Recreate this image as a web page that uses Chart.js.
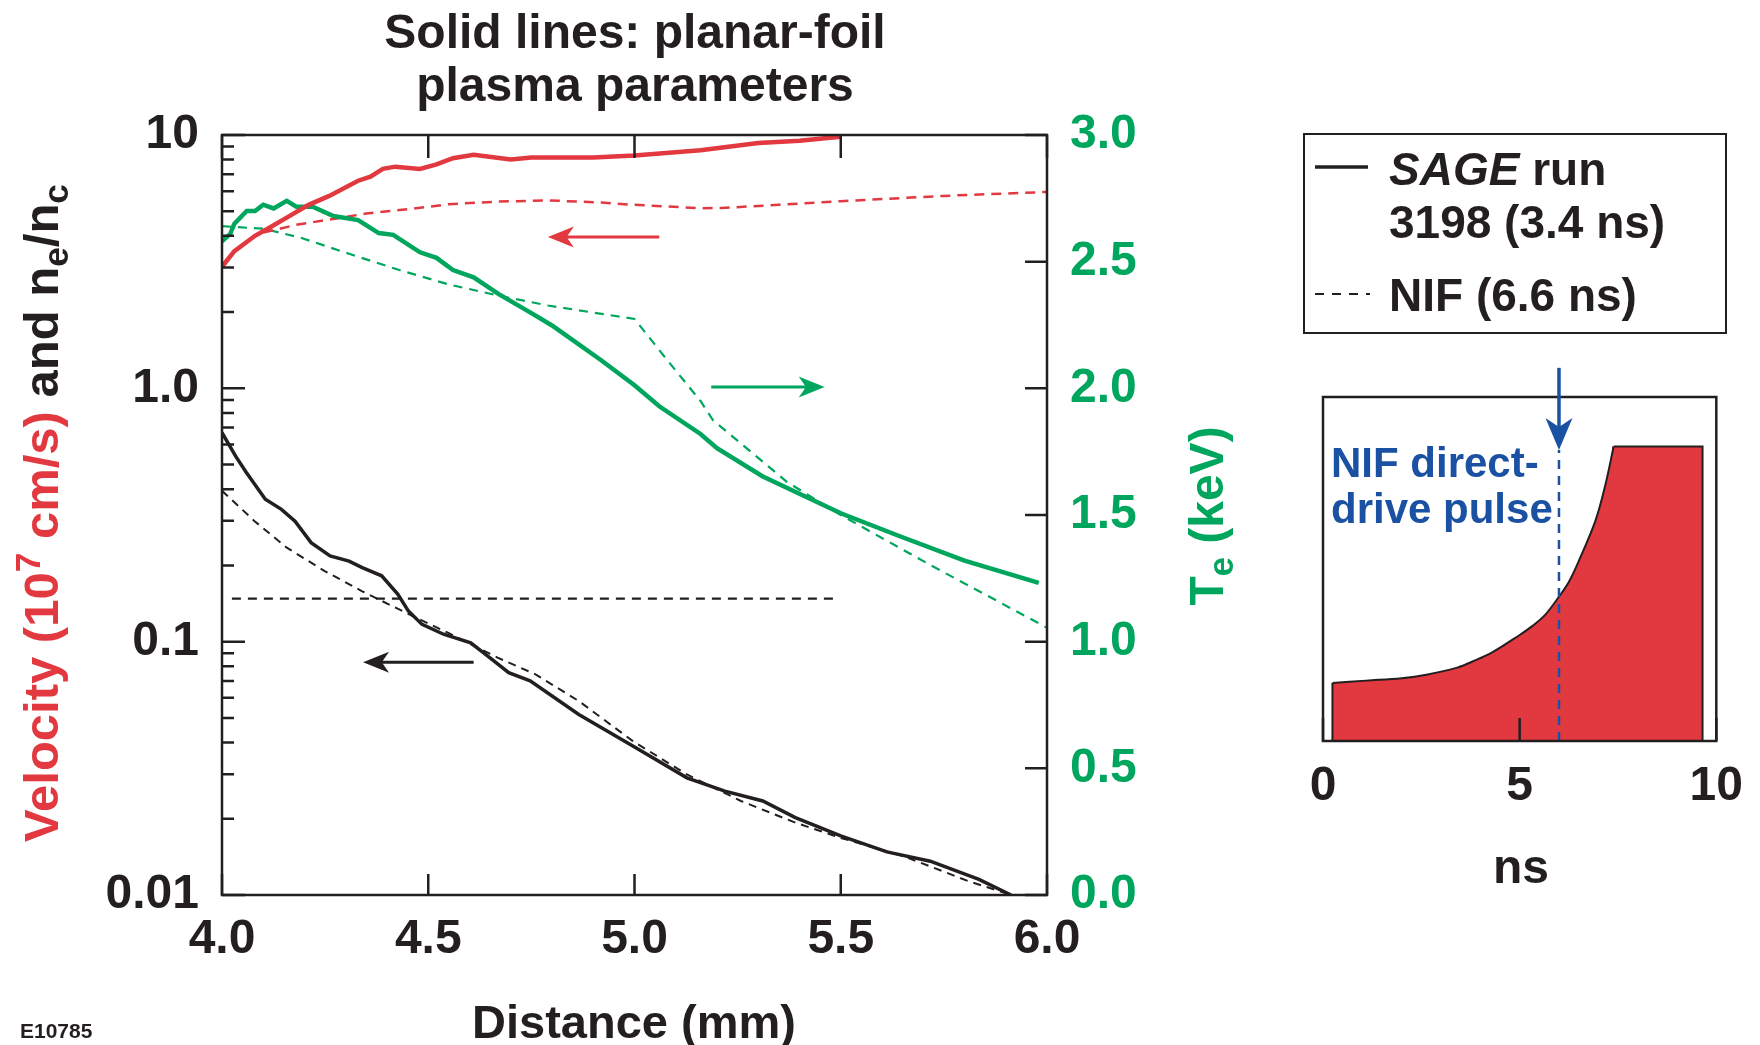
<!DOCTYPE html>
<html>
<head>
<meta charset="utf-8">
<script src="https://cdn.jsdelivr.net/npm/chart.js@4.4.1/dist/chart.umd.min.js"></script>
<style>
  body { margin: 0; background: #fff; }
  #wrap { position: relative; width: 1760px; height: 1045px; }
  canvas { position: absolute; left: 0; top: 0; }
</style>
</head>
<body>
<div id="wrap">
  <canvas id="mainChart" width="1760" height="1045"></canvas>
  <canvas id="pulseChart" width="1760" height="1045"></canvas>
</div>
<script>
// ---- data ----
var distTicks = [4.0, 4.5, 5.0, 5.5, 6.0];
var densTicks = [0.01, 0.1, 1, 10];
var densLabels = ['0.01', '0.1', '1.0', '10'];
var tempTicks = [0, 0.5, 1.0, 1.5, 2.0, 2.5, 3.0];

// velocity (10^7 cm/s), red
var velSageX = [4.00, 4.03, 4.08, 4.12, 4.16, 4.21, 4.26, 4.33, 4.36, 4.39, 4.42, 4.48, 4.52, 4.56, 4.61, 4.70, 4.75, 4.90, 5.00, 5.16, 5.30, 5.40, 5.50];
var velSageY = [3.02, 3.48, 4.0, 4.35, 4.75, 5.3, 5.75, 6.6, 6.85, 7.35, 7.5, 7.35, 7.65, 8.1, 8.35, 8.0, 8.15, 8.15, 8.3, 8.7, 9.3, 9.5, 9.85];
var velNifX = [4.10, 4.18, 4.29, 4.35, 4.47, 4.55, 4.67, 4.79, 4.92, 5.00, 5.16, 5.21, 5.35, 5.50, 5.75, 6.00];
var velNifY = [4.12, 4.42, 4.72, 4.9, 5.14, 5.33, 5.46, 5.52, 5.41, 5.3, 5.14, 5.15, 5.3, 5.48, 5.75, 5.96];

// electron temperature (keV), green
var teSageX = [4.00, 4.02, 4.03, 4.06, 4.08, 4.10, 4.125, 4.157, 4.18, 4.22, 4.27, 4.33, 4.38, 4.415, 4.48, 4.52, 4.56, 4.61, 4.67, 4.75, 4.80, 4.92, 5.00, 5.06, 5.16, 5.20, 5.31, 5.50, 5.64, 5.80, 5.98];
var teSageY = [2.58, 2.61, 2.65, 2.70, 2.70, 2.725, 2.71, 2.74, 2.717, 2.717, 2.68, 2.664, 2.613, 2.606, 2.537, 2.515, 2.467, 2.438, 2.373, 2.297, 2.248, 2.11, 2.012, 1.929, 1.82, 1.764, 1.653, 1.507, 1.418, 1.32, 1.232];
var teNifX = [4.00, 4.10, 4.19, 4.31, 4.43, 4.55, 4.67, 4.79, 4.92, 5.00, 5.08, 5.16, 5.19, 5.37, 5.50, 5.72, 6.00];
var teNifY = [2.64, 2.63, 2.595, 2.53, 2.467, 2.41, 2.366, 2.327, 2.294, 2.274, 2.11, 1.95, 1.875, 1.63, 1.50, 1.30, 1.055];

// density ne/nc, black
var neSageX = [4.00, 4.033, 4.059, 4.105, 4.144, 4.177, 4.216, 4.262, 4.308, 4.34, 4.387, 4.426, 4.452, 4.485, 4.537, 4.603, 4.649, 4.695, 4.747, 4.865, 4.996, 5.127, 5.219, 5.311, 5.39, 5.50, 5.612, 5.717, 5.835, 5.913];
var neSageY = [0.668, 0.54, 0.465, 0.365, 0.333, 0.299, 0.246, 0.218, 0.208, 0.196, 0.182, 0.154, 0.132, 0.117, 0.107, 0.099, 0.0865, 0.0754, 0.070, 0.0516, 0.0387, 0.029, 0.0257, 0.0235, 0.0202, 0.0171, 0.0148, 0.0136, 0.01153, 0.01];
var neNifX = [4.00, 4.079, 4.157, 4.249, 4.34, 4.446, 4.55, 4.668, 4.76, 4.865, 4.996, 5.127, 5.258, 5.39, 5.50, 5.651, 5.809, 5.913];
var neNifY = [0.394, 0.299, 0.235, 0.190, 0.158, 0.130, 0.108, 0.0865, 0.0743, 0.0583, 0.0405, 0.0299, 0.0235, 0.0193, 0.0168, 0.01426, 0.01135, 0.01];
var critX = [4.024, 5.494];
var critY = [0.148, 0.148];

// arrows [x from, x to, value, axis, colour]
var arrowsMain = [
  [5.06, 4.79, 3.96, 'y', 'red'],
  [4.61, 4.342, 0.083, 'y', 'black'],
  [5.186, 5.461, 2.005, 'y2', 'green']
];

// inset: NIF direct-drive pulse shape (relative power vs ns)
var pulseCurveT = [0.24, 1.1, 2.0, 2.63, 3.43, 3.8, 4.29, 5.0, 5.32, 5.66, 6.0, 6.25, 6.5, 6.93, 7.18, 7.39];
var pulseCurveP = [0.197, 0.205, 0.213, 0.225, 0.25, 0.27, 0.30, 0.36, 0.39, 0.43, 0.49, 0.54, 0.61, 0.749, 0.87, 1.0];
var pulseFlatT = [7.39, 9.65, 9.65];
var pulseFlatP = [1.0, 1.0, 0];
var pulseStartT = [0.24, 0.24];
var pulseStartP = [0, 0.197];
var pulseJoinT = [7.39, 7.39];
var pulseJoinP = [0, 1.0];
var pulseTicks = [0, 5, 10];
var markTime = 6.0;
var markTop = 0.988;
var markArrowStart = 1.267;

var RED = '#e2383f', GREEN = '#00a65d', BLACK = '#231f20', BLUE = '#1a51a2';
var FONT = "'Liberation Sans', Arial, Helvetica, sans-serif";
var colorOf = { red: RED, green: GREEN, black: BLACK };

Chart.defaults.font.family = FONT;
Chart.defaults.color = BLACK;

function pts(xs, ys) {
    return xs.map(function (x, i) { return { x: x, y: ys[i] }; });
}

function arrow(ctx, x1, y1, x2, y2, color, lw, len, half) {
    var a = Math.atan2(y2 - y1, x2 - x1);
    ctx.save();
    ctx.strokeStyle = color;
    ctx.fillStyle = color;
    ctx.lineWidth = lw;
    ctx.setLineDash([]);
    ctx.beginPath();
    ctx.moveTo(x1, y1);
    ctx.lineTo(x2 - Math.cos(a) * len * 0.6, y2 - Math.sin(a) * len * 0.6);
    ctx.stroke();
    ctx.translate(x2, y2);
    ctx.rotate(a);
    ctx.beginPath();
    ctx.moveTo(0, 0);
    ctx.lineTo(-len, -half);
    ctx.lineTo(-len * 0.72, 0);
    ctx.lineTo(-len, half);
    ctx.closePath();
    ctx.fill();
    ctx.restore();
}

// text made of pieces: [text, color, kind]  kind: '', 'sup', 'sub', 'it'
function richText(ctx, parts, cx, cy, size) {
    function font(p) {
        var s = (p[2] === 'sup' || p[2] === 'sub') ? size * 0.72 : size;
        return (p[2] === 'it' ? 'italic ' : '') + 'bold ' + s + 'px ' + FONT;
    }
    var widths = parts.map(function (p) {
        ctx.font = font(p);
        return ctx.measureText(p[0]).width;
    });
    var total = widths.reduce(function (a, b) { return a + b; }, 0);
    var x = cx - total / 2;
    ctx.textAlign = 'left';
    ctx.textBaseline = 'alphabetic';
    parts.forEach(function (p, i) {
        ctx.font = font(p);
        ctx.fillStyle = p[1];
        var dy = p[2] === 'sup' ? -size * 0.36 : (p[2] === 'sub' ? size * 0.2 : 0);
        ctx.fillText(p[0], x, cy + dy);
        x += widths[i];
    });
}

var mainDecor = {
    id: 'mainDecor',
    afterDraw: function (chart) {
        var ctx = chart.ctx, a = chart.chartArea;
        var sx = chart.scales.x, sy = chart.scales.y, st = chart.scales.y2;
        ctx.save();
        ctx.strokeStyle = BLACK;
        ctx.lineWidth = 2.5;
        ctx.strokeRect(a.left, a.top, a.right - a.left, a.bottom - a.top);

        ctx.beginPath();
        distTicks.forEach(function (v) {
            var px = sx.getPixelForValue(v);
            ctx.moveTo(px, a.bottom); ctx.lineTo(px, a.bottom - 21);
            ctx.moveTo(px, a.top); ctx.lineTo(px, a.top + 23);
        });
        densTicks.forEach(function (d, i) {
            var py = sy.getPixelForValue(d);
            ctx.moveTo(a.left, py); ctx.lineTo(a.left + 23, py);
            if (i < densTicks.length - 1) {
                for (var m = 2; m <= 9; m++) {
                    var pm = sy.getPixelForValue(d * m);
                    ctx.moveTo(a.left, pm); ctx.lineTo(a.left + 12, pm);
                }
            }
        });
        tempTicks.forEach(function (v) {
            var py = st.getPixelForValue(v);
            ctx.moveTo(a.right, py); ctx.lineTo(a.right - 22, py);
        });
        ctx.stroke();

        arrowsMain.forEach(function (ar) {
            var sc = chart.scales[ar[3]];
            var py = sc.getPixelForValue(ar[2]);
            arrow(ctx, sx.getPixelForValue(ar[0]), py, sx.getPixelForValue(ar[1]), py, colorOf[ar[4]], 3, 26, 10.5);
        });

        // titles
        ctx.fillStyle = BLACK;
        ctx.textAlign = 'center';
        ctx.textBaseline = 'alphabetic';
        ctx.font = 'bold 48px ' + FONT;
        ctx.fillText('Solid lines: planar-foil', 635, 48);
        ctx.fillText('plasma parameters', 635, 101);
        ctx.font = 'bold 47px ' + FONT;
        ctx.fillText('Distance (mm)', 634, 1038);
        ctx.textAlign = 'left';
        ctx.font = 'bold 21px ' + FONT;
        ctx.fillText('E10785', 20, 1038);

        ctx.save();
        ctx.translate(58, 513);
        ctx.rotate(-Math.PI / 2);
        richText(ctx, [
            ['Velocity (10', RED, ''], ['7', RED, 'sup'], [' cm/s)', RED, ''],
            [' and n', BLACK, ''], ['e', BLACK, 'sub'], ['/n', BLACK, ''], ['c', BLACK, 'sub']
        ], 0, 0, 49);
        ctx.restore();

        ctx.save();
        ctx.translate(1223, 516);
        ctx.rotate(-Math.PI / 2);
        richText(ctx, [['T', GREEN, ''], ['e', GREEN, 'sub'], [' (keV)', GREEN, '']], 0, 0, 48);
        ctx.restore();

        // legend box
        ctx.lineWidth = 2;
        ctx.strokeStyle = BLACK;
        ctx.strokeRect(1304, 134, 422, 199);
        ctx.lineWidth = 3.5;
        ctx.beginPath();
        ctx.moveTo(1315, 167); ctx.lineTo(1368, 167);
        ctx.stroke();
        ctx.lineWidth = 2;
        ctx.setLineDash([9, 8]);
        ctx.beginPath();
        ctx.moveTo(1315, 294); ctx.lineTo(1370, 294);
        ctx.stroke();
        ctx.setLineDash([]);
        ctx.fillStyle = BLACK;
        ctx.textAlign = 'left';
        ctx.font = 'italic bold 46px ' + FONT;
        ctx.fillText('SAGE', 1389, 185);
        var w = ctx.measureText('SAGE').width;
        ctx.font = 'bold 46px ' + FONT;
        ctx.fillText(' run', 1389 + w, 185);
        ctx.fillText('3198 (3.4 ns)', 1389, 238);
        ctx.fillText('NIF (6.6 ns)', 1389, 311);
        ctx.restore();
    }
};

new Chart(document.getElementById('mainChart'), {
    type: 'line',
    data: {
        datasets: [
            { data: pts(velSageX, velSageY), yAxisID: 'y', borderColor: RED, borderWidth: 4.5 },
            { data: pts(teSageX, teSageY), yAxisID: 'y2', borderColor: GREEN, borderWidth: 4.5 },
            { data: pts(neSageX, neSageY), yAxisID: 'y', borderColor: BLACK, borderWidth: 3.5 },
            { data: pts(velNifX, velNifY), yAxisID: 'y', borderColor: RED, borderWidth: 2.5, borderDash: [10, 7] },
            { data: pts(teNifX, teNifY), yAxisID: 'y2', borderColor: GREEN, borderWidth: 2.2, borderDash: [9, 7] },
            { data: pts(neNifX, neNifY), yAxisID: 'y', borderColor: BLACK, borderWidth: 2, borderDash: [8, 6] },
            { data: pts(critX, critY), yAxisID: 'y', borderColor: BLACK, borderWidth: 2.2, borderDash: [9, 7] }
        ]
    },
    options: {
        responsive: false,
        animation: false,
        layout: { padding: { top: 135, left: 0, right: 0, bottom: 0 } },
        plugins: { legend: { display: false }, tooltip: { enabled: false } },
        elements: { point: { radius: 0 }, line: { tension: 0, fill: false } },
        scales: {
            x: {
                type: 'linear', min: 4, max: 6,
                grid: { display: false, drawTicks: false }, border: { display: false },
                afterBuildTicks: function (s) { s.ticks = distTicks.map(function (v) { return { value: v }; }); },
                afterFit: function (s) { s.height = 150; },
                ticks: { autoSkip: false, maxRotation: 0, padding: 16, color: BLACK, font: { size: 48, weight: 'bold' },
                    callback: function (v) { return v.toFixed(1); } }
            },
            y: {
                type: 'logarithmic', position: 'left', min: 0.01, max: 10,
                grid: { display: false, drawTicks: false }, border: { display: false },
                afterBuildTicks: function (s) { s.ticks = densTicks.map(function (v) { return { value: v }; }); },
                afterFit: function (s) { s.width = 222; },
                ticks: { autoSkip: false, padding: 23, color: BLACK, font: { size: 48, weight: 'bold' },
                    callback: function (v) { var i = densTicks.indexOf(v); return i >= 0 ? densLabels[i] : ''; } }
            },
            y2: {
                type: 'linear', position: 'right', min: 0, max: 3,
                grid: { display: false, drawTicks: false }, border: { display: false },
                afterBuildTicks: function (s) { s.ticks = tempTicks.map(function (v) { return { value: v }; }); },
                afterFit: function (s) { s.width = 1760 - 1047; },
                ticks: { autoSkip: false, padding: 23, color: GREEN, font: { size: 48, weight: 'bold' },
                    callback: function (v) { return v.toFixed(1); } }
            }
        }
    },
    plugins: [mainDecor]
});

var pulseDecor = {
    id: 'pulseDecor',
    afterDraw: function (chart) {
        var ctx = chart.ctx, a = chart.chartArea;
        var sx = chart.scales.x, sy = chart.scales.y;
        ctx.save();
        ctx.strokeStyle = BLACK;
        ctx.lineWidth = 2.5;
        ctx.strokeRect(a.left, a.top, a.right - a.left, a.bottom - a.top);
        ctx.beginPath();
        pulseTicks.forEach(function (v) {
            var px = sx.getPixelForValue(v);
            ctx.moveTo(px, a.bottom); ctx.lineTo(px, a.bottom - 23);
        });
        ctx.stroke();
        var mx = sx.getPixelForValue(markTime);
        arrow(ctx, mx, sy.getPixelForValue(markArrowStart), mx, sy.getPixelForValue(markTop), BLUE, 3.5, 32, 13.5);
        ctx.fillStyle = BLUE;
        ctx.textAlign = 'left';
        ctx.textBaseline = 'alphabetic';
        ctx.font = 'bold 42px ' + FONT;
        ctx.fillText('NIF direct-', 1331, 477);
        ctx.fillText('drive pulse', 1331, 523);
        ctx.fillStyle = BLACK;
        ctx.textAlign = 'center';
        ctx.font = 'bold 48px ' + FONT;
        ctx.fillText('ns', 1521, 883);
        ctx.restore();
    }
};

new Chart(document.getElementById('pulseChart'), {
    type: 'line',
    data: {
        datasets: [
            { data: [{ x: markTime, y: 0 }, { x: markTime, y: markTop }], borderColor: BLUE, borderWidth: 2.5, borderDash: [9, 7], fill: false },
            { data: pts(pulseStartT, pulseStartP), borderColor: BLACK, borderWidth: 2, fill: false },
            { data: pts(pulseCurveT, pulseCurveP), borderColor: BLACK, borderWidth: 2, backgroundColor: RED, fill: 'origin', tension: 0.35 },
            { data: pts(pulseFlatT, pulseFlatP), borderColor: BLACK, borderWidth: 2, backgroundColor: RED, fill: 'origin' },
            { data: pts(pulseJoinT, pulseJoinP), borderColor: RED, borderWidth: 3, fill: false }
        ]
    },
    options: {
        responsive: false,
        animation: false,
        layout: { padding: { top: 397, left: 1323, right: 42, bottom: 0 } },
        plugins: { legend: { display: false }, tooltip: { enabled: false } },
        elements: { point: { radius: 0 }, line: { tension: 0 } },
        scales: {
            x: {
                type: 'linear', min: 0, max: 10,
                grid: { display: false, drawTicks: false }, border: { display: false },
                afterBuildTicks: function (s) { s.ticks = pulseTicks.map(function (v) { return { value: v }; }); },
                afterFit: function (s) { s.height = 1045 - 741; },
                ticks: { autoSkip: false, maxRotation: 0, padding: 17, color: BLACK, font: { size: 48, weight: 'bold' } }
            },
            y: { type: 'linear', display: false, min: 0, max: 1.168 }
        }
    },
    plugins: [pulseDecor]
});
</script>
</body>
</html>
